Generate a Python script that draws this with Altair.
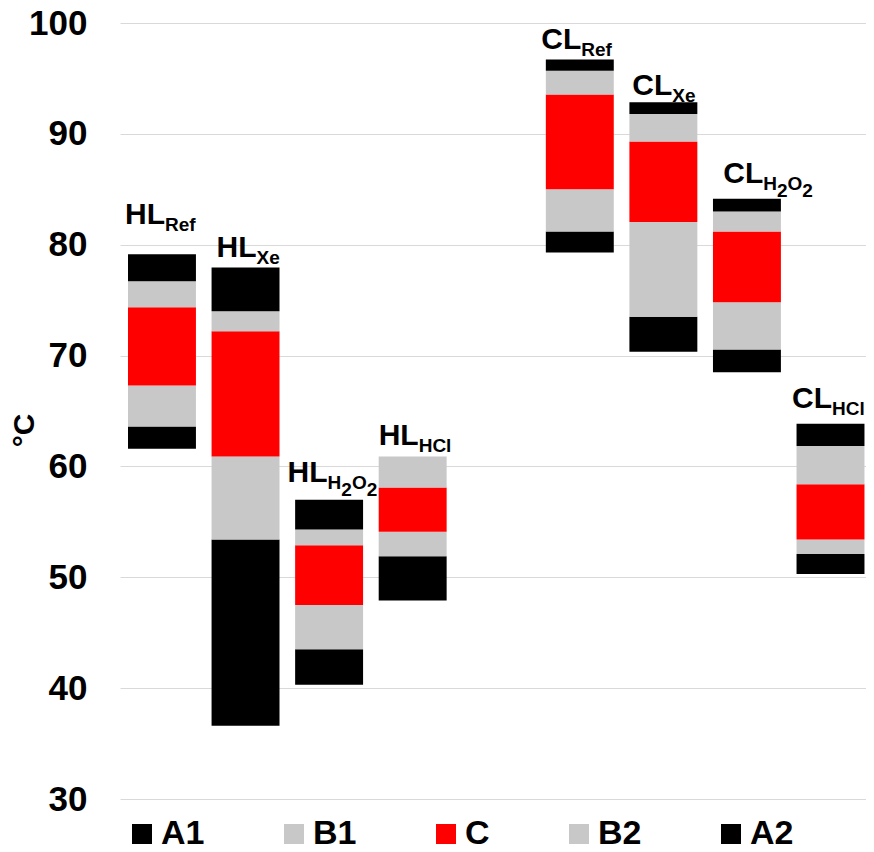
import altair as alt
import pandas as pd

# ---------------- data ----------------
slot_order = ["HL_Ref", "HL_Xe", "HL_H2O2", "HL_HCl", " ", "CL_Ref", "CL_Xe", "CL_H2O2", "CL_HCl"]
categories = ["HL_Ref", "HL_Xe", "HL_H2O2", "HL_HCl", "CL_Ref", "CL_Xe", "CL_H2O2", "CL_HCl"]
prefix = ["HL", "HL", "HL", "HL", "CL", "CL", "CL", "CL"]
subscript = ["Ref", "Xe", "H2O2", "HCl", "Ref", "Xe", "H2O2", "HCl"]
series = ["A1", "B1", "C", "B2", "A2"]

# segment boundaries (°C), bottom to top
low    = [61.6, 36.6, 40.3, 47.9, 79.3, 70.35, 68.5, 50.3]
a1_top = [63.6, 53.4, 43.5, 51.9, 81.2, 73.5, 70.55, 52.1]
b1_top = [67.3, 60.9, 47.5, 54.1, 85.0, 82.05, 74.8, 53.4]
c_top  = [74.35, 72.2, 52.9, 58.1, 93.55, 89.3, 81.2, 58.4]
b2_top = [76.7, 74.0, 54.3, 60.9, 95.7, 91.8, 83.0, 61.85]
high   = [79.15, 77.95, 57.0, 60.9, 96.7, 92.85, 84.15, 63.85]

y_ticks = [30, 40, 50, 60, 70, 80, 90, 100]

# ---------------- style / layout ----------------
FONT = "Liberation Sans"
colors = ["#000000", "#c8c8c8", "#ff0000", "#c8c8c8", "#000000"]
MAIN_SIZE = 30
SUB_SIZE = 19
label_start_px = [-37, -29, -41.5, -34, -38.5, -31, -23.7, -38.5]
label_gap_px = [30, 10, 18, 11, 11, 7, 16, 16]

W = {"H": 0.722, "L": 0.611, "C": 0.722, "R": 0.722, "e": 0.556, "f": 0.333,
     "X": 0.667, "l": 0.278, "O": 0.778, "2": 0.556}


def tw(s, size):
    return sum(W.get(ch, 0.6) for ch in s) * size


rows = []
for i, cat in enumerate(categories):
    b = [low[i], a1_top[i], b1_top[i], c_top[i], b2_top[i], high[i]]
    for j, s in enumerate(series):
        rows.append({"cat": cat, "series": s, "lo": b[j], "hi": b[j + 1]})
bars_df = pd.DataFrame(rows)

# label pieces
pieces = []
for i, cat in enumerate(categories):
    x0 = label_start_px[i]
    g = label_gap_px[i]
    pieces.append({"cat": cat, "top": high[i], "text": prefix[i], "dx": x0, "dy": -g, "size": MAIN_SIZE})
    cur = x0 + tw(prefix[i], MAIN_SIZE)
    if subscript[i] == "H2O2":
        parts = [("H", 0), ("2", 1), ("O", 0), ("2", 1)]
    else:
        parts = [(subscript[i], 0)]
    for txt, lvl in parts:
        pieces.append({"cat": cat, "top": high[i], "text": txt, "dx": cur,
                       "dy": -g + (7 if lvl == 0 else 14), "size": SUB_SIZE})
        cur += tw(txt, SUB_SIZE)
for k, p in enumerate(pieces):
    p["pid"] = k
labels_df = pd.DataFrame(pieces)

xscale = alt.Scale(domain=slot_order, paddingInner=0.187, paddingOuter=0.057, align=0.84)
yscale = alt.Scale(domain=[30, 100], nice=False, zero=False)

y_axis = alt.Axis(values=y_ticks, labelFontSize=35, labelFont=FONT, labelFontWeight="bold",
                  labelColor="black", labelPadding=33, ticks=False, domain=False,
                  domainOpacity=0, domainWidth=0, tickOpacity=0,
                  gridColor="#d9d9d9", gridWidth=1, title="°C", titleFont=FONT,
                  titleFontSize=30, titleFontWeight="bold", titleColor="black",
                  titleX=-96, titleY=407, titleAngle=270, titleAlign="center",
                  titleBaseline="middle")

bars = alt.Chart(bars_df).mark_bar(strokeWidth=0).encode(
    x=alt.X("cat:N", scale=xscale, axis=None, sort=slot_order),
    y=alt.Y("lo:Q", scale=yscale, axis=y_axis),
    y2="hi:Q",
    color=alt.Color("series:N", scale=alt.Scale(domain=series, range=colors),
                    legend=alt.Legend(orient="none", legendX=5, legendY=794, direction="horizontal",
                                      title=None, symbolType="square", symbolSize=400,
                                      symbolStrokeWidth=0, symbolOpacity=1, labelFontSize=34,
                                      labelFont=FONT, labelFontWeight="bold", labelColor="black",
                                      labelOffset=2, columnPadding=72, labelLimit=0)),
    order=alt.Order("lo:Q"),
)

layers = [bars]
for p in pieces:
    layers.append(
        alt.Chart(labels_df).transform_filter(alt.datum.pid == p["pid"]).mark_text(
            align="left", baseline="alphabetic", dx=p["dx"], dy=p["dy"], fontSize=p["size"],
            fontWeight="bold", font=FONT, color="black"
        ).encode(
            x=alt.X("cat:N", sort=slot_order, axis=None),
            y=alt.Y("top:Q", axis=y_axis),
            text="text:N",
        )
    )

chart = alt.layer(*layers).properties(
    width=746, height=776,
    padding={"left": 112, "top": 15, "right": 0, "bottom": 53},
    autosize=alt.AutoSizeParams(type="none"),
    background="white",
).configure_view(stroke="transparent", strokeWidth=0).configure_axis(
    domain=False, ticks=False, domainOpacity=0, tickOpacity=0)

chart.save("out.html", embed_options={"renderer": "svg", "actions": False})
